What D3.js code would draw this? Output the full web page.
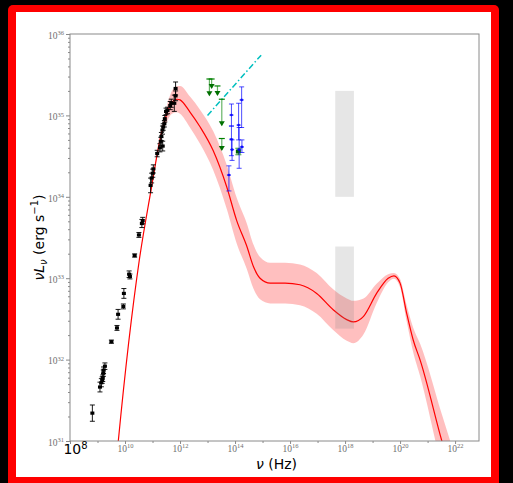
<!DOCTYPE html>
<html>
<head>
<meta charset="utf-8">
<script src="https://cdn.jsdelivr.net/npm/d3@7"></script>
<style>
  html, body { margin: 0; padding: 0; background: #000; }
  svg { display: block; }
</style>
</head>
<body>
<svg id="chart" width="513" height="483"></svg>
<script>
// ---- Observed radio / sub-mm photometry (black) ----
const obsNu  = [6.5e8, 1.23e9, 1.38e9, 1.48e9, 1.55e9, 1.62e9, 1.66e9, 1.86e9, 3.2e9, 5.1e9,
                5.6e9, 8.7e9, 9.1e9, 1.41e10, 1.51e10, 2.24e10, 3.2e10, 4.1e10, 4.4e10, 8.5e10,
                9.3e10, 1.02e11, 1.07e11, 1.48e11, 1.86e11, 2.0e11, 2.1e11, 2.3e11, 2.35e11, 2.45e11,
                2.7e11, 2.8e11, 3.1e11, 3.5e11, 4.4e11, 4.8e11, 6.2e11, 6.9e11, 6.9e11];
const obsLum = [2.2e31, 4.6e31, 5.2e31, 5.6e31, 5.9e31, 6.8e31, 7.4e31, 8.3e31, 1.66e32, 2.45e32,
                3.6e32, 4.5e32, 6.5e32, 1.12e33, 1.05e33, 1.9e33, 3.4e33, 4.7e33, 5.1e33, 1.38e34,
                1.7e34, 1.95e34, 2.2e34, 3.4e34, 4.0e34, 4.8e34, 5.5e34, 6.6e34, 4.2e34, 7.2e34,
                7.9e34, 9.1e34, 1.12e35, 1.15e35, 1.32e35, 1.41e35, 1.41e35, 1.74e35, 2.14e35];
const obsErrDex = [0.10, 0.06, 0.05, 0.04, 0.04, 0.04, 0.04, 0.04, 0.02, 0.03,
                   0.06, 0.03, 0.06, 0.04, 0.03, 0.02, 0.03, 0.05, 0.04, 0.09,
                   0.06, 0.05, 0.05, 0.04, 0.05, 0.05, 0.05, 0.05, 0.06, 0.04,
                   0.04, 0.04, 0.04, 0.04, 0.05, 0.05, 0.10, 0.06, 0.08];

// ---- Infrared / optical detections (blue) ----
const irNu   = [6.0e13, 7.4e13, 7.4e13, 7.8e13, 1.35e14, 1.41e14, 1.74e14, 1.78e14];
const irLum  = [1.85e34, 1.01e35, 5.1e34, 3.8e34, 7.6e34, 3.8e34, 1.55e35, 4.1e34];
const irLo   = [1.18e34, 7.4e34, 3.2e34, 2.8e34, 5.0e34, 2.24e34, 7.1e34, 3.5e34];
const irHi   = [2.4e34, 1.38e35, 7.4e34, 5.0e34, 1.41e35, 7.1e34, 2.24e35, 5.0e34];

// ---- Mid-IR upper limits (green arrows) and one detection ----
const ulNu     = [1.17e13, 1.41e13, 2.3e13, 3.3e13, 3.3e13];
const ulLum    = [2.8e35, 2.8e35, 2.3e35, 1.58e35, 5.2e34];
const ulLenDex = [0.20, 0.11, 0.11, 0.32, 0.14];
const midNu = [1.32e14], midLum = [3.6e34], midErrDex = [0.04];

// ---- Power-law extrapolation (cyan dash-dot) ----
const plNu  = [1.0e13, 8.9e14];
const plLum = [1.0e35, 5.5e35];

// ---- 2-10 keV X-ray ranges (grey boxes) ----
const xrayNu = [4.4e17, 2.1e18];
const xrayBoxLum = [[1.0e34, 2.0e35], [2.4e32, 2.45e33]];

// ---- Model SED and its uncertainty (red line + band) ----
const modelNu  = [5.0e9, 5.7e9, 3.3e10, 8.8e10, 1.86e11, 3.4e11, 5.1e11, 7.8e11, 1.0e12, 2.3e12,
                  5.4e12, 1.6e13, 5.0e13, 1.15e14, 2.7e14, 4.7e14, 8.1e14, 1.9e15, 6.6e15, 2.3e16,
                  9.3e16, 3.7e17, 1.15e18, 2.0e18, 4.7e18, 1.4e19, 3.7e19, 6.0e19, 1.0e20, 1.74e20,
                  3.0e20, 5.4e20, 3.3e21, 6.6e21];
const modelLum = [6.3e30, 1.0e31, 1.66e33, 1.2e34, 5.0e34, 1.07e35, 1.45e35, 1.58e35, 1.55e35, 1.1e35,
                  7.2e34, 3.7e34, 1.32e34, 5.1e33, 2.45e33, 1.38e33, 1.0e33, 8.7e32, 8.7e32, 8.3e32,
                  6.5e32, 4.1e32, 3.1e32, 2.9e32, 3.4e32, 6.5e32, 1.0e33, 1.07e33, 8.7e32, 3.7e32,
                  1.74e32, 9.8e31, 1.0e31, 4.4e30];
const modelSigmaDex = [0.0, 0.0, 0.0, 0.01, 0.04, 0.10, 0.14, 0.16, 0.17, 0.19,
                       0.21, 0.24, 0.27, 0.28, 0.28, 0.27, 0.26, 0.25, 0.25, 0.25,
                       0.25, 0.25, 0.26, 0.26, 0.22, 0.12, 0.05, 0.035, 0.05, 0.10,
                       0.15, 0.20, 0.33, 0.36];

// ---- Axis ticks ----
const xTickExp = [8, 10, 12, 14, 16, 18, 20, 22];
const yTickExp = [31, 32, 33, 34, 35, 36];

// ================= drawing =================
const svg = d3.select("#chart");
const W = 513, H = 483;
const plot = { left: 70, right: 479, top: 34, bottom: 441 };

// frame: black page, red border, white canvas
svg.append("rect").attr("width", W).attr("height", H).attr("fill", "#000");
svg.append("rect").attr("x", 8).attr("y", 5).attr("width", 491).attr("height", 484)
   .attr("rx", 5).attr("fill", "#ff0000");
svg.append("rect").attr("x", 16).attr("y", 12).attr("width", 475).attr("height", 465)
   .attr("fill", "#fff");

const x = d3.scaleLog().domain([1e8, 7.4e22]).range([plot.left, plot.right]);
const y = d3.scaleLog().domain([1e31, 1e36]).range([plot.bottom, plot.top]);

svg.append("clipPath").attr("id", "plotClip").append("rect")
   .attr("x", plot.left).attr("y", plot.top)
   .attr("width", plot.right - plot.left).attr("height", plot.bottom - plot.top);

const g = svg.append("g").attr("clip-path", "url(#plotClip)");

// model band
const model = modelNu.map((nu, i) => ({
  nu, L: modelLum[i],
  lo: modelLum[i] / Math.pow(10, modelSigmaDex[i]),
  hi: modelLum[i] * Math.pow(10, modelSigmaDex[i])
}));
g.append("path").datum(model)
  .attr("fill", "#ff0000").attr("fill-opacity", 0.25)
  .attr("d", d3.area().curve(d3.curveMonotoneX)
    .x(d => x(d.nu)).y0(d => y(d.lo)).y1(d => y(d.hi)));
g.append("path").datum(model)
  .attr("fill", "none").attr("stroke", "#ff0000").attr("stroke-width", 1.2)
  .attr("d", d3.line().curve(d3.curveMonotoneX).x(d => x(d.nu)).y(d => y(d.L)));

// X-ray boxes
xrayBoxLum.forEach(([lo, hi]) => {
  g.append("rect")
    .attr("x", x(xrayNu[0])).attr("width", x(xrayNu[1]) - x(xrayNu[0]))
    .attr("y", y(hi)).attr("height", y(lo) - y(hi))
    .attr("fill", "#808080").attr("fill-opacity", 0.2);
});

// power-law extrapolation
g.append("line")
  .attr("x1", x(plNu[0])).attr("y1", y(plLum[0]))
  .attr("x2", x(plNu[1])).attr("y2", y(plLum[1]))
  .attr("stroke", "#00bfbf").attr("stroke-width", 1.5)
  .attr("stroke-dasharray", "6,2.5,1.5,2.5");

// generic vertical error bar
function errBar(sel, xv, lo, hi, color, capW, opacity) {
  const gg = sel.append("g").attr("stroke", color).attr("stroke-opacity", opacity).attr("stroke-width", 1);
  gg.append("line").attr("x1", x(xv)).attr("x2", x(xv)).attr("y1", y(lo)).attr("y2", y(hi));
  gg.append("line").attr("x1", x(xv) - capW).attr("x2", x(xv) + capW).attr("y1", y(lo)).attr("y2", y(lo));
  gg.append("line").attr("x1", x(xv) - capW).attr("x2", x(xv) + capW).attr("y1", y(hi)).attr("y2", y(hi));
}

// green upper limits
ulNu.forEach((nu, i) => {
  const top = ulLum[i], bot = ulLum[i] / Math.pow(10, ulLenDex[i]);
  const px = x(nu), pt = y(top), pb = y(bot);
  g.append("line").attr("x1", px).attr("x2", px).attr("y1", pt).attr("y2", pb)
    .attr("stroke", "#008000").attr("stroke-opacity", 0.6).attr("stroke-width", 1.2);
  g.append("line").attr("x1", px - 3).attr("x2", px + 3).attr("y1", pt).attr("y2", pt)
    .attr("stroke", "#008000").attr("stroke-width", 1.2);
  g.append("path")
    .attr("d", `M${px - 3},${pb - 4}L${px + 3},${pb - 4}L${px},${pb + 1}Z`)
    .attr("fill", "#007000");
});
midNu.forEach((nu, i) => {
  const e = Math.pow(10, midErrDex[i]);
  errBar(g, nu, midLum[i] / e, midLum[i] * e, "#008000", 3, 0.8);
  g.append("rect").attr("x", x(nu) - 2.5).attr("y", y(midLum[i]) - 2)
    .attr("width", 5).attr("height", 4).attr("fill", "#006400");
});

// blue detections
irNu.forEach((nu, i) => {
  errBar(g, nu, irLo[i], irHi[i], "#0000ff", 2.5, 0.7);
  g.append("line").attr("x1", x(nu) - 2).attr("x2", x(nu) + 2)
    .attr("y1", y(irLum[i])).attr("y2", y(irLum[i]))
    .attr("stroke", "#0000ff").attr("stroke-opacity", 0.7).attr("stroke-width", 1.5);
  g.append("circle").attr("cx", x(nu)).attr("cy", y(irLum[i])).attr("r", 1.3)
    .attr("fill", "#0000ff").attr("fill-opacity", 0.8);
});

// black photometry
obsNu.forEach((nu, i) => {
  const e = Math.pow(10, obsErrDex[i]);
  errBar(g, nu, obsLum[i] / e, obsLum[i] * e, "#000", 2.5, 0.9);
  g.append("rect").attr("x", x(nu) - 2).attr("y", y(obsLum[i]) - 1.6)
    .attr("width", 4).attr("height", 3.2).attr("fill", "#000");
});

// ---- axes ----
const axisColor = "#8a8a8a";
svg.append("rect").attr("x", plot.left).attr("y", plot.top)
  .attr("width", plot.right - plot.left).attr("height", plot.bottom - plot.top)
  .attr("fill", "none").attr("stroke", axisColor).attr("stroke-width", 1);

// y minor ticks
const yMinor = [];
yTickExp.slice(0, -1).forEach(e => { for (let k = 2; k <= 9; k++) yMinor.push(k * Math.pow(10, e)); });
const yMinorAxis = svg.append("g").attr("transform", `translate(${plot.left},0)`)
  .call(d3.axisLeft(y).tickValues(yMinor).tickSize(2).tickFormat(""));
yMinorAxis.select(".domain").remove();
yMinorAxis.selectAll("line").attr("stroke", axisColor);

// y major ticks + labels
const yAxis = svg.append("g").attr("transform", `translate(${plot.left},0)`)
  .call(d3.axisLeft(y).tickValues(yTickExp.map(e => Math.pow(10, e))).tickSize(4).tickPadding(2).tickFormat(""));
yAxis.select(".domain").remove();
yAxis.selectAll("line").attr("stroke", axisColor);
yAxis.selectAll(".tick text").each(function (d, i) {
  const t = d3.select(this).attr("font-family", "Liberation Serif, serif")
    .attr("font-size", 9.5).attr("fill", "#707070").attr("dy", "0.45em");
  t.append("tspan").text("10");
  t.append("tspan").attr("font-size", 6.5).attr("dy", "-0.55em").text(yTickExp[i]);
});

// x ticks (odd decades as minor)
const xMinor = [];
for (let e = 9; e <= 22; e += 2) xMinor.push(Math.pow(10, e));
const xMinorAxis = svg.append("g").attr("transform", `translate(0,${plot.bottom})`)
  .call(d3.axisBottom(x).tickValues(xMinor).tickSize(2).tickFormat(""));
xMinorAxis.select(".domain").remove();
xMinorAxis.selectAll("line").attr("stroke", axisColor);

const xAxis = svg.append("g").attr("transform", `translate(0,${plot.bottom})`)
  .call(d3.axisBottom(x).tickValues(xTickExp.map(e => Math.pow(10, e))).tickSize(3).tickPadding(1).tickFormat(""));
xAxis.select(".domain").remove();
xAxis.selectAll("line").attr("stroke", axisColor);
xAxis.selectAll(".tick text").each(function (d, i) {
  const exp = xTickExp[i];
  const t = d3.select(this);
  if (exp === 8) {
    t.attr("font-family", "DejaVu Sans, sans-serif").attr("font-size", 14)
     .attr("fill", "#000").attr("dx", "5").attr("dy", "0.62em");
    t.append("tspan").text("10");
    t.append("tspan").attr("font-size", 10).attr("dy", "-0.5em").text(exp);
  } else {
    t.attr("font-family", "Liberation Serif, serif").attr("font-size", 9.5)
     .attr("fill", "#707070").attr("dy", "0.72em");
    t.append("tspan").text("10");
    t.append("tspan").attr("font-size", 6.5).attr("dy", "-0.55em").text(exp);
  }
});

// axis titles
const yTitle = svg.append("text")
  .attr("transform", `translate(44,${(plot.top + plot.bottom) / 2}) rotate(-90)`)
  .attr("text-anchor", "middle").attr("font-family", "DejaVu Sans, sans-serif")
  .attr("font-size", 14).attr("fill", "#000");
yTitle.append("tspan").attr("font-style", "italic").text("νL");
yTitle.append("tspan").attr("font-style", "italic").attr("font-size", 10).attr("dy", 3).text("ν");
yTitle.append("tspan").attr("dy", -3).text(" (erg s");
yTitle.append("tspan").attr("font-size", 10).attr("dy", -6).text("−1");
yTitle.append("tspan").attr("dy", 6).text(")");

const xTitle = svg.append("text")
  .attr("x", (plot.left + plot.right) / 2 + 2).attr("y", 469)
  .attr("text-anchor", "middle").attr("font-family", "DejaVu Sans, sans-serif")
  .attr("font-size", 14).attr("fill", "#000");
xTitle.append("tspan").attr("font-style", "italic").text("ν");
xTitle.append("tspan").text(" (Hz)");
</script>
</body>
</html>
